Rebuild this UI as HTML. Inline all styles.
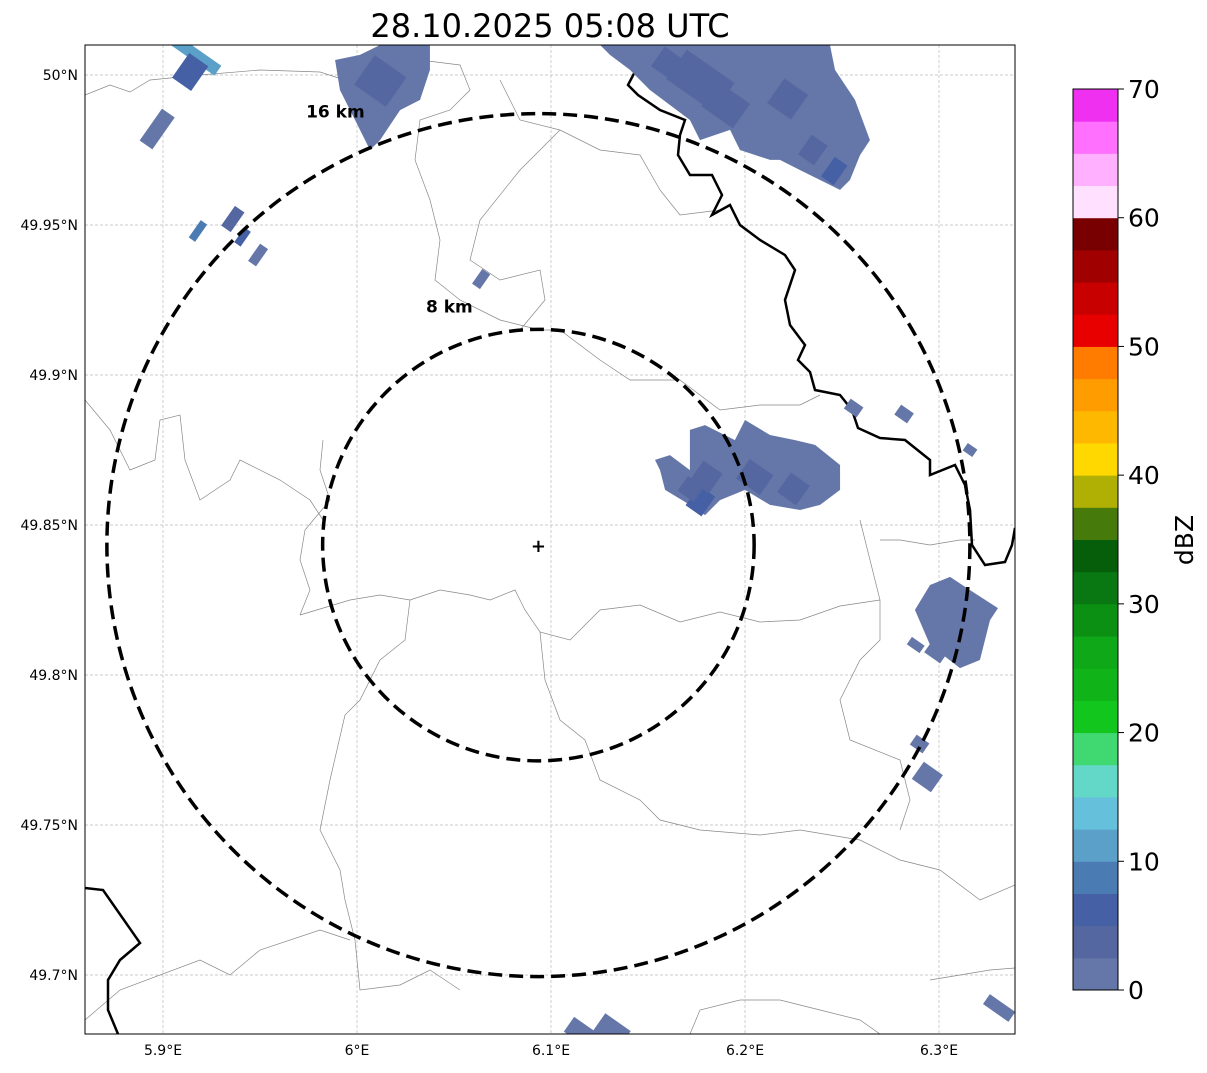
<!DOCTYPE html>
<html><head><meta charset="utf-8"><style>
body{margin:0;background:#fff;width:1207px;height:1069px;overflow:hidden;font-family:"DejaVu Sans","Liberation Sans",sans-serif}
svg text{font-family:"DejaVu Sans","Liberation Sans",sans-serif}
</style></head><body>
<svg id="svg" width="1207" height="1069" xmlns="http://www.w3.org/2000/svg">
<defs><clipPath id="clip"><rect x="85" y="45" width="930" height="989"/></clipPath></defs>
<rect x="0" y="0" width="1207" height="1069" fill="#fff"/>
<text x="550" y="37" font-size="32" text-anchor="middle" fill="#000">28.10.2025 05:08 UTC</text>
<g id="grid"></g>
<g id="map" clip-path="url(#clip)"></g>
<g id="echoes" clip-path="url(#clip)"></g>
<g id="rings" clip-path="url(#clip)"></g>
<rect x="85" y="45" width="930" height="989" fill="none" stroke="#000" stroke-width="1"/>
<g id="axes"></g>
<g id="cbar"></g>
</svg>
<script>
const lonTicks=[5.9,6.0,6.1,6.2,6.3];
const lonLabels=["5.9°E","6°E","6.1°E","6.2°E","6.3°E"];
const latTicks=[50.0,49.95,49.9,49.85,49.8,49.75,49.7];
const latLabels=["50°N","49.95°N","49.9°N","49.85°N","49.8°N","49.75°N","49.7°N"];
const cbLevels=[0,2.5,5,7.5,10,12.5,15,17.5,20,22.5,25,27.5,30,32.5,35,37.5,40,42.5,45,47.5,50,52.5,55,57.5,60,62.5,65,67.5,70];
const cbColors=["#6577a8","#5567a0","#4560a5","#4a7cb3","#5aa0c8","#65c0dc","#64d8c8","#40d870","#12c61e","#10b418","#0ea818","#0c9014","#0a7812","#065e0a","#467a0a","#b0b004","#ffd800","#ffb800","#ff9c00","#ff7c00","#e80000","#c80000","#a00000","#780000","#ffe0ff","#ffb0ff","#ff70ff","#f030f0"];
const cbTicks=[0,10,20,30,40,50,60,70];
const radarLon=6.0935, radarLat=49.8433;
const ringKm=[8,16];
const polyLon=[
 [6.1253,6.2438,6.2464,6.2567,6.2644,6.2593,6.2541,6.2490,6.2284,6.2180,6.2129,6.1974,6.1923,6.1768,6.1716,6.1510,6.1407,6.1304],
 [6.1536,6.1613,6.1716,6.1716,6.1794,6.1948,6.2,6.2129,6.2258,6.2361,6.249,6.249,6.2387,6.2284,6.2129,6.2,6.1871,6.1794,6.1716,6.1588,6.1562],
 [5.9887,6.0015,6.0119,6.0376,6.0376,6.0325,6.0222,6.0119,6.0067,5.999,5.9912],
 [6.2954,6.3057,6.316,6.3304,6.3263,6.3211,6.3108,6.2954,6.2876]
];
const polyLat=[
 [50.010,50.010,50.0017,49.9917,49.9783,49.9733,49.965,49.9617,49.9683,49.9717,49.9717,49.975,49.9817,49.9783,49.985,49.995,50.0017,50.0067],
 [49.8717,49.8733,49.8683,49.8817,49.8833,49.8783,49.885,49.88,49.8783,49.8767,49.87,49.8617,49.8567,49.855,49.8567,49.8617,49.8583,49.8533,49.8567,49.8617,49.8683],
 [50.005,50.0067,50.010,50.010,50.0017,49.9917,49.9883,49.9783,49.975,49.985,49.995],
 [49.83,49.8327,49.8283,49.8223,49.8183,49.805,49.8023,49.81,49.8217]
];
const polyDbz=[2,2,2,1];
const cellLon=[6.177,6.160,6.215,6.235,6.246,6.190,6.222,5.916,5.914,5.897,5.918,5.936,5.941,5.949,6.064,6.177,6.256,6.282,6.316,6.290,6.294,6.115,6.131,6.331,6.012,6.180,6.205,6.225,6.172,6.288,6.300];
const cellLat=[49.998,50.004,49.985,49.975,49.968,49.990,49.992,50.007,50.001,49.982,49.948,49.952,49.946,49.94,49.932,49.858,49.889,49.887,49.875,49.777,49.766,49.681,49.681,49.689,49.998,49.866,49.866,49.862,49.862,49.81,49.809];
const cellW=[0.03,0.012,0.015,0.01,0.008,0.02,0.015,0.03,0.012,0.008,0.004,0.006,0.004,0.005,0.005,0.01,0.008,0.008,0.006,0.008,0.012,0.014,0.016,0.016,0.02,0.012,0.015,0.012,0.01,0.008,0.01];
const cellH=[0.012,0.008,0.01,0.008,0.008,0.01,0.01,0.004,0.01,0.013,0.007,0.008,0.006,0.007,0.006,0.008,0.004,0.004,0.003,0.004,0.007,0.006,0.008,0.004,0.012,0.008,0.008,0.008,0.006,0.003,0.008];
const cellDbz=[4,3,2,3,6,3,4,10,5,2,8,3,6,2,2,5,2,2,2,2,2,2,2,2,3,3,3,4,4,2,2];

const X0=163, PX_PER_DEG=1940, Y0=75, PX_PER_LAT=3000;
const xs=lon=>X0+(lon-5.9)*PX_PER_DEG;
const ys=lat=>Y0+(50.0-lat)*PX_PER_LAT;
const NS='http://www.w3.org/2000/svg';
function mk(tag,attrs,parent){const e=document.createElementNS(NS,tag);for(const k in attrs)e.setAttribute(k,attrs[k]);parent.appendChild(e);return e;}
function colorFor(d){let i=Math.floor(d/2.5);if(i>27)i=27;if(i<0)i=0;return cbColors[i];}

const grid=document.getElementById('grid'),axes=document.getElementById('axes');
lonTicks.forEach((v,i)=>{const x=xs(v);
 const l=mk('line',{x1:x,x2:x,y1:45,y2:1034,stroke:'#bbb','stroke-width':0.7,'stroke-dasharray':'3,2'},grid);
 
 const t=mk('text',{x:x,y:1055,'font-size':14,'text-anchor':'middle'},axes);t.textContent=lonLabels[i];
 });
latTicks.forEach((v,i)=>{const y=ys(v);
 const l=mk('line',{x1:85,x2:1015,y1:y,y2:y,stroke:'#bbb','stroke-width':0.7,'stroke-dasharray':'3,2'},grid);
 
 const t=mk('text',{x:78,y:y+5,'font-size':14,'text-anchor':'end'},axes);t.textContent=latLabels[i];
 });

const map=document.getElementById('map');
const thin=[
 "300,615 350,600 380,595 410,600 440,590 470,595 490,600 515,590 525,610 540,632 570,640 600,610 640,605 680,622 720,612 760,622 800,620 840,606 880,600",
 "323,440 320,470 330,500 305,530 300,560 310,590 300,615",
 "85,400 110,430 130,470 155,460 160,420 180,415 185,460 200,500 230,480 240,460 280,480 310,500 323,520",
 "410,600 405,640 380,660 360,700 345,715 330,780 320,830 340,870 345,900 355,940 360,990 400,985 430,970 460,990",
 "540,632 545,680 560,720 585,740 600,780 640,800 660,820 700,830 760,835 800,830 860,840 900,860 940,870 980,900 1015,885",
 "85,95 110,85 130,92 150,80 200,75 260,70 320,72 360,85 390,80 420,60 460,65 470,90 450,110 420,120 415,160 430,200 440,240 435,280 460,300 500,320 540,330 560,330 600,360 630,380 680,380 720,410 760,405 800,405 820,395",
 "420,60 420,40",
 "85,1020 120,990 200,960 230,975 260,950 320,930 350,940",
 "860,520 880,600 880,640 860,660 840,700 850,740 900,760 910,800 900,830",
 "880,540 900,540 930,545 960,540 975,540",
 "560,130 520,170 480,220 470,260 500,280 540,270 545,300 520,330",
 "660,190 680,215 720,210",
 "690,1034 700,1010 740,1000 780,1000 820,1010 860,1020 880,1034",
 "930,980 960,975 990,970 1015,968",
 "500,80 520,120 560,130 600,150 640,155 660,190"
];
thin.forEach(p=>{const e=mk('polyline',{points:p,fill:'none',stroke:'#888','stroke-width':0.7},map);
 });
const thick=["648,40 640,62 628,85 638,95 660,110 685,120 680,135 678,155 690,175 712,175 722,195 712,215 730,205 740,225 760,240 785,255 795,270 785,300 790,325 805,345 798,360 810,372 815,390 840,395 852,410 858,428 880,438 905,440 930,460 930,475 955,465 965,485 970,510 972,545 985,565 1005,562 1012,545 1015,528",
 "85,888 103,890 140,943 120,960 108,980 108,1010 118,1034"];
thick.forEach(p=>{const e=mk('polyline',{points:p,fill:'none',stroke:'#000','stroke-width':2.5},map);
 });

const eg=document.getElementById('echoes');
polyLon.forEach((lons,i)=>{const pts=lons.map((lo,j)=>xs(lo)+','+ys(polyLat[i][j])).join(' ');
 const e=mk('polygon',{points:pts,fill:colorFor(polyDbz[i])},eg);
 });
cellLon.forEach((lo,i)=>{const cx=xs(lo),cy=ys(cellLat[i]),w=cellW[i]*PX_PER_DEG,h=cellH[i]*PX_PER_LAT;
 const e=mk('rect',{x:cx-w/2,y:cy-h/2,width:w,height:h,fill:colorFor(cellDbz[i]),transform:`rotate(35 ${cx} ${cy})`},eg);
 });

const rg=document.getElementById('rings');
const cx=xs(radarLon),cy=ys(radarLat);
const pxPerKm=431.5/16;
ringKm.forEach(k=>{const r=k*pxPerKm;
 const c=mk('circle',{cx:cx,cy:cy,r:r,fill:'none',stroke:'#000','stroke-width':3.5,'stroke-dasharray':'14,7'},rg);
 
 const lx=k===16?cx-203:cx-89, ly=k===16?cy-r+4:cy-r-17;
 const t=mk('text',{x:lx,y:ly,'font-size':17,'font-weight':'bold','text-anchor':'middle'},rg);
 t.textContent=k+' km';});
const m=mk('text',{x:cx,y:cy+7,'font-size':18,'font-weight':'bold','text-anchor':'middle'},rg);m.textContent='+';


const cb=document.getElementById('cbar');
const cbTop=89,cbBot=990,cbX=1073,cbW=45;
const cbY=v=>cbBot-(v/70)*(cbBot-cbTop);
cbColors.forEach((c,i)=>{const y1=cbY(cbLevels[i+1]),y0=cbY(cbLevels[i]);
 const r=mk('rect',{x:cbX,y:y1,width:cbW,height:y0-y1+0.5,fill:c},cb);
 });
const fr=mk('rect',{x:cbX,y:cbTop,width:cbW,height:cbBot-cbTop,fill:'none',stroke:'#000','stroke-width':1},cb);

cbTicks.forEach(v=>{const y=cbY(v);
 mk('line',{x1:cbX+cbW,x2:cbX+cbW+6,y1:y,y2:y,stroke:'#000'},cb);
 const t=mk('text',{x:cbX+cbW+10,y:y+9,'font-size':25},cb);t.textContent=v;
 });
const lab=mk('text',{x:1193,y:540,'font-size':25,'text-anchor':'middle',transform:'rotate(-90 1193 540)'},cb);
lab.textContent='dBZ';
</script>
</body></html>
